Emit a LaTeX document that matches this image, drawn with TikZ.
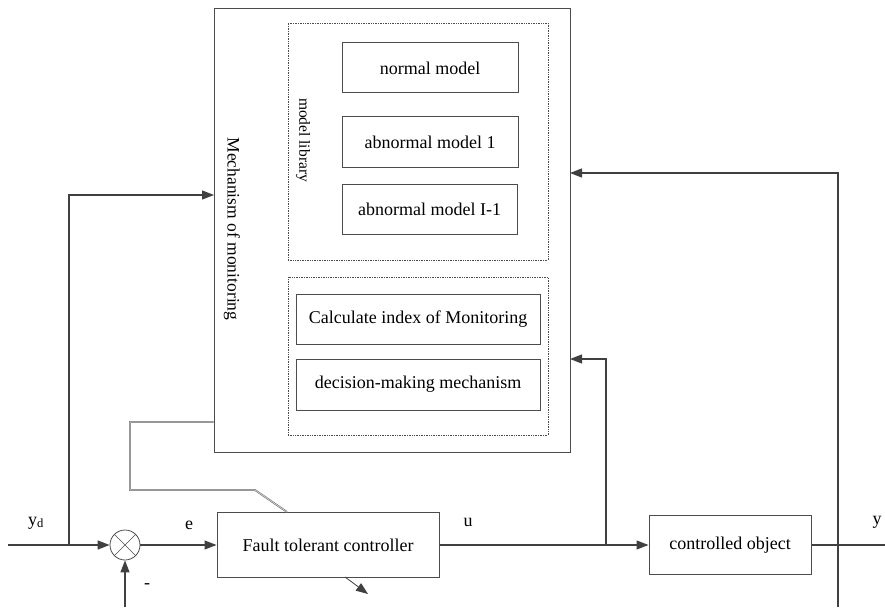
\documentclass[tikz,border=0pt]{standalone}
\usepackage{fontspec}
\setmainfont{Liberation Serif}
\usepackage{tikz}
\usetikzlibrary{arrows.meta}

\begin{document}
\begin{tikzpicture}[x=1pt,y=-1pt,
    line width=1.3pt, draw=black!75,
    block/.style={draw=black!70, line width=1pt, minimum width=#1, minimum height=50pt, inner sep=0pt,
      font=\fontsize{18}{21}\selectfont},
    dotbox/.style={draw=black!70, densely dotted, line width=0.7pt, inner sep=0pt},
    arr/.style={-{Triangle[length=12pt,width=9pt]}, draw=black!75, line width=1.3pt},
    lbl/.style={font=\fontsize{18}{21}\selectfont}]
    \useasboundingbox (0,0) rectangle (885,607);

    % monitoring part
    \node[draw=black!70, line width=1pt, minimum width=356pt, minimum height=443pt, inner sep=0pt] (mon) at (392,230.5) {};
    \node[dotbox, minimum width=260pt, minimum height=237pt] (lib) at (418,141.5) {};
    \node[dotbox, minimum width=260pt, minimum height=158pt] (calcbox) at (418,356) {};
    \node[rotate=-90, font=\fontsize{17.5}{21}\selectfont] (montxt) at (232,229) {Mechanism of monitoring};
    \node[rotate=-90, font=\fontsize{15.5}{19}\selectfont] (libtxt) at (303,140) {model library};

    % model boxes
    \node[block=176pt] (normal) at (430,68) {normal model};
    \node[block=176pt] (abn1) at (430,142) {abnormal model 1};
    \node[block=175pt] (abnI) at (429.5,209) {abnormal model I-1};
    \node[block=244pt] (calc) at (418,319) {Calculate index of Monitoring};
    \node[block=244pt, minimum height=51pt] (dec) at (418,384.5) {decision-making mechanism};

    % control loop
    \node[draw=black!70, line width=0.8pt, circle, minimum size=30pt, inner sep=0pt] (sum) at (125,545) {};
    \draw[line width=0.6pt, draw=black!70] (sum.north west) -- (sum.south east)
      (sum.north east) -- (sum.south west);
    \node[block=222pt, minimum height=65pt] (ftc) at (328,545) {Fault tolerant controller};
    \node[block=162pt, minimum height=59pt] (co) at (730,545) {controlled object};

    \coordinate (in) at (8,545);
    \coordinate (yd) at (69,545);
    \coordinate (ydup) at (214,195);
    \coordinate (ub) at (606,545);
    \coordinate (uup) at (570,359);
    \coordinate (out) at (885,545);
    \coordinate (yb) at (838,607);
    \coordinate (yup) at (570,173);
    \coordinate (fb) at (125,607);
    \coordinate (fout) at (368,594);

    % connectors
    \draw[arr] (in) -- (sum.west);
    \draw[arr] (yd) |- (ydup);
    \draw[arr] (sum.east) -- (ftc.west);
    \draw[arr] (ftc.east) -- (co.west);
    \draw[arr] (ub) |- (uup);
    \draw (co.east) -- (out);
    \draw[arr] (yb) |- (yup);
    \draw[arr] (fb) -- (sum.south);
    \draw[arr, line width=0.8pt] (345,577) -- (fout);

    % link from monitoring to controller
    \draw[draw=black!55, line width=0.6pt, double=black!15, double distance=0.6pt]
      (mon.west |- 0,422) -- (130,422) -- (130,490) -- (255,490) -- (ftc.north -| 287,0);

    % labels
    \node[lbl] (ydlbl) at (36,523) {y\textsubscript{d}};
    \node[lbl] (elbl) at (189,525) {e};
    \node[lbl] (ulbl) at (468,522) {u};
    \node[lbl] (ylbl) at (877,522) {y};
    \node[lbl] (minus) at (147,586) {-};
\end{tikzpicture}
\end{document}
